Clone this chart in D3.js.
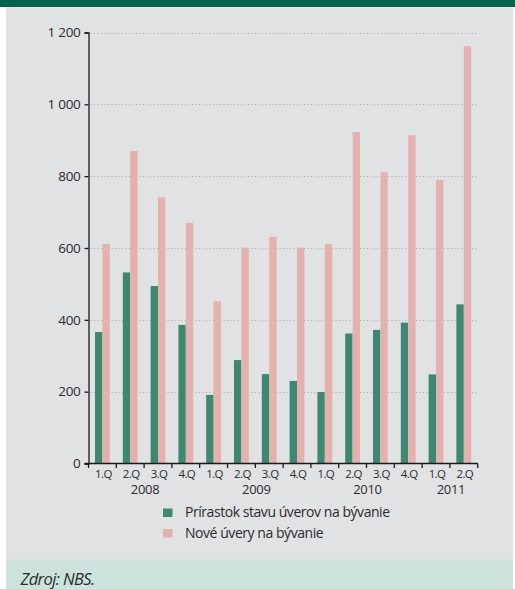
<!DOCTYPE html>
<html>
<head>
<meta charset="utf-8">
<script src="https://cdn.jsdelivr.net/npm/d3@7"></script>
<style>
  html, body { margin: 0; padding: 0; background: #ffffff; }
  svg { display: block; }
  text { font-family: "Open Sans", "Noto Sans", sans-serif; fill: #2b2b2b; }
</style>
</head>
<body>
<svg id="chart" width="515" height="589"></svg>
<script>
// Quarterly housing loans (mil. EUR)
const years = ["2008", "2009", "2010", "2011"];
const quarters = ["1.Q", "2.Q", "3.Q", "4.Q", "1.Q", "2.Q", "3.Q", "4.Q", "1.Q", "2.Q", "3.Q", "4.Q", "1.Q", "2.Q"];
const quarterYears = ["2008", "2008", "2008", "2008", "2009", "2009", "2009", "2009", "2010", "2010", "2010", "2010", "2011", "2011"];
const seriesNames = ["Prírastok stavu úverov na bývanie", "Nové úvery na bývanie"];
const growthValues = [366, 532, 494, 386, 191, 288, 249, 230, 199, 362, 372, 392, 248, 443];
const newLoanValues = [611, 870, 741, 670, 452, 601, 631, 601, 611, 923, 811, 914, 789, 1162];
const yTicks = [0, 200, 400, 600, 800, 1000, 1200];
const seriesColors = ["#3e8872", "#e5b1af"];

const svg = d3.select("#chart");
const W = 515, H = 589;

// panel backgrounds
svg.append("rect").attr("x", 0).attr("y", 0).attr("width", W).attr("height", H).attr("fill", "#ffffff");
svg.append("rect").attr("x", 6).attr("y", 0).attr("width", W - 8).attr("height", 560).attr("fill", "#e1e2e4");
svg.append("rect").attr("x", 0).attr("y", 0).attr("width", W).attr("height", 7).attr("fill", "#00654a");
svg.append("rect").attr("x", 6).attr("y", 559.5).attr("width", W - 8).attr("height", H - 559.5).attr("fill", "#cbe3dc");

const plotLeft = 88.5, plotRight = 477.7, plotTop = 32.5, plotBottom = 463.5;
const cats = d3.range(quarters.length);

const x = d3.scaleBand().domain(cats).range([plotLeft, plotRight]).padding(0);
const xInner = d3.scaleBand().domain([0, 1]).range([0, x.bandwidth()]).paddingInner(0).paddingOuter(0.88);
const y = d3.scaleLinear().domain([0, 1200]).range([plotBottom, plotTop]);

const fmt = d3.formatLocale({ decimal: ",", thousands: " ", grouping: [3], currency: ["", " €"] }).format(",d");

// dotted gridlines
svg.append("g").selectAll("line").data(yTicks.filter(d => d > 0)).join("line")
  .attr("x1", plotLeft + 2).attr("x2", plotRight)
  .attr("y1", d => Math.round(y(d)) + 0.5).attr("y2", d => Math.round(y(d)) + 0.5)
  .attr("stroke", "#a9a9ab").attr("stroke-width", 1).attr("stroke-dasharray", "1,2.5");

// bars
const groups = svg.append("g").selectAll("g").data(cats).join("g")
  .attr("transform", i => `translate(${x(i)},0)`);
groups.append("rect")
  .attr("x", xInner(0)).attr("width", xInner.bandwidth())
  .attr("y", i => y(growthValues[i])).attr("height", i => y(0) - y(growthValues[i]))
  .attr("fill", seriesColors[0]);
groups.append("rect")
  .attr("x", xInner(1)).attr("width", xInner.bandwidth())
  .attr("y", i => y(newLoanValues[i])).attr("height", i => y(0) - y(newLoanValues[i]))
  .attr("fill", seriesColors[1]);

// y axis
const yAxis = svg.append("g").attr("transform", `translate(${plotLeft},0)`)
  .call(d3.axisLeft(y).tickValues(yTicks).tickSize(4).tickSizeOuter(4).tickPadding(4).tickFormat(fmt));
yAxis.selectAll("path, line").attr("stroke", "#1a1a1a").attr("stroke-width", 1.3);
yAxis.selectAll("text").attr("font-size", 13.5).attr("font-family", "Open Sans").attr("fill", "#2b2b2b")
  .attr("letter-spacing", -0.3);

// x axis: baseline with ticks at quarter boundaries
const xAxisG = svg.append("g").attr("transform", `translate(0,${plotBottom})`);
xAxisG.append("line").attr("x1", plotLeft - 4).attr("x2", plotRight).attr("y1", 0).attr("y2", 0)
  .attr("stroke", "#1a1a1a").attr("stroke-width", 1.3);
xAxisG.selectAll("line.tick").data(d3.range(quarters.length + 1)).join("line")
  .attr("class", "tick")
  .attr("x1", i => plotLeft + i * x.step()).attr("x2", i => plotLeft + i * x.step())
  .attr("y1", 0).attr("y2", 4.5)
  .attr("stroke", "#1a1a1a").attr("stroke-width", 1.3);
xAxisG.selectAll("text.q").data(cats).join("text")
  .attr("class", "q")
  .attr("x", i => x(i) + x.bandwidth() / 2 + 1)
  .attr("y", 14)
  .attr("text-anchor", "middle").attr("font-size", 11.5)
  .attr("letter-spacing", -0.6)
  .text(i => quarters[i]);

// year labels centred under their quarters
xAxisG.selectAll("text.yr").data(years).join("text")
  .attr("class", "yr")
  .attr("x", yr => {
    const idx = cats.filter(i => quarterYears[i] === yr);
    return (x(idx[0]) + x(idx[idx.length - 1]) + x.bandwidth()) / 2 + 1;
  })
  .attr("y", 30)
  .attr("text-anchor", "middle").attr("font-size", 13)
  .attr("letter-spacing", -0.3)
  .text(d => d);

// legend
const legend = svg.append("g").attr("transform", "translate(163,508)");
seriesNames.forEach((name, i) => {
  const row = legend.append("g").attr("transform", `translate(0,${i * 20.5})`);
  row.append("rect").attr("x", 0).attr("y", 0.5).attr("width", 9.5).attr("height", 8.5).attr("fill", seriesColors[i]);
  row.append("text").attr("x", 22).attr("y", 9).attr("font-size", 14).attr("letter-spacing", -0.45).text(name);
});

// source note
svg.append("text").attr("x", 20.5).attr("y", 584.5)
  .attr("font-size", 16.5).attr("font-style", "italic").attr("letter-spacing", -0.6)
  .text("Zdroj: NBS.");
</script>
</body>
</html>
